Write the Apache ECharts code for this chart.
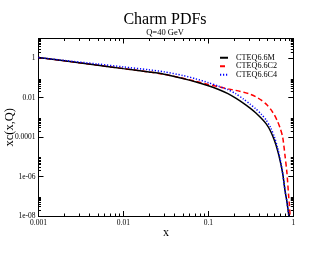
<!DOCTYPE html>
<html><head><meta charset="utf-8">
<script src="https://cdn.jsdelivr.net/npm/echarts@6/dist/echarts.min.js"></script>
<style>html,body{margin:0;padding:0;background:#fff}#c{width:330px;height:255px}</style>
</head><body><div id="c"></div>
<script>
var xs  = [0.001, 0.002, 0.005, 0.01, 0.02, 0.03, 0.05, 0.07, 0.1, 0.13, 0.17, 0.21, 0.26, 0.31, 0.36, 0.42, 0.48, 0.54, 0.6, 0.65, 0.7, 0.75, 0.8, 0.84, 0.88, 0.9, 0.92];
var yM  = [1.085, 0.738, 0.442, 0.297, 0.200, 0.155, 0.094, 0.0646, 0.0405, 0.0269, 0.0160, 0.00955, 0.0052, 0.00297, 0.00172, 8.95e-4, 4.66e-4, 1.99e-4, 6.65e-5, 2.25e-5, 6.3e-6, 1.44e-6, 1.85e-7, 5.5e-8, 1.29e-8, 7.1e-9, 1e-9];
var yC2 = [1.085, 0.738, 0.442, 0.297, 0.200, 0.155, 0.097, 0.0685, 0.0466, 0.0361, 0.0279, 0.0234, 0.019, 0.0150, 0.0112, 0.00747, 0.00469, 0.00262, 0.0013, 6.46e-4, 2.86e-4, 1.0e-4, 1.09e-5, 1.69e-6, 1.16e-7, 3.6e-8, 7.9e-9];
var yC4 = [1.085, 0.774, 0.508, 0.362, 0.259, 0.205, 0.133, 0.0917, 0.0575, 0.0391, 0.0254, 0.0160, 0.0084, 0.00469, 0.00277, 0.00146, 7.26e-4, 3.03e-4, 1.0e-4, 3.12e-5, 7.7e-6, 1.44e-6, 1.85e-7, 5.5e-8, 1.29e-8, 7.1e-9, 1e-9];
var seriesNames = ['CTEQ6.6M', 'CTEQ6.6C2', 'CTEQ6.6C4'];
var xTickValues = [0.001, 0.01, 0.1, 1];
var xTickLabels = ['0.001', '0.01', '0.1', '1'];
var yTickValues = [1e-8, 1e-6, 1e-4, 1e-2, 1];
var yTickLabels = ['1e-08', '1e-06', '0.0001', '0.01', '1'];

var xMinor = [];
[0.001, 0.01, 0.1].forEach(function (d) { for (var m = 2; m <= 9; m++) xMinor.push(+(m * d).toPrecision(3)); });
var yMinor = [];
[1e-8, 1e-6, 1e-4, 1e-2, 1].forEach(function (d) { for (var m = 2; m <= 9; m++) yMinor.push(+(m * d).toPrecision(3)); });

function pairs(ys) { return xs.map(function (x, i) { return [x, ys[i]]; }); }
function lab(vals, labs) {
  return function (v) {
    for (var i = 0; i < vals.length; i++) if (Math.abs(Math.log10(v) - Math.log10(vals[i])) < 1e-6) return labs[i];
    return '';
  };
}
var F = 'Liberation Serif, Times New Roman, serif';
var axisLine = { show: true, lineStyle: { color: '#000', width: 1 } };
function xAx(pos, major, showLab) {
  return {
    type: 'log', logBase: 10, min: 0.001, max: 1, position: pos,
    axisLine: axisLine,
    axisTick: { show: true, inside: true, length: major ? 5 : 2.5, customValues: major ? xTickValues : xMinor, lineStyle: { color: '#000', width: 1 } },
    axisLabel: showLab ? { show: true, customValues: xTickValues, formatter: lab(xTickValues, xTickLabels), fontFamily: F, fontSize: 7.5, color: '#000', margin: 3 } : { show: false },
    splitLine: { show: false }, minorTick: { show: false },
    name: showLab ? 'x' : '', nameLocation: 'middle', nameGap: 11, nameMoveOverlap: false,
    nameTextStyle: { fontFamily: F, fontSize: 12, color: '#000' }
  };
}
function yAx(pos, major, showLab) {
  return {
    type: 'log', logBase: 10, min: 1e-8, max: 10, position: pos,
    axisLine: axisLine,
    axisTick: { show: true, inside: true, length: major ? 5 : 2.5, customValues: major ? yTickValues : yMinor, lineStyle: { color: '#000', width: 1 } },
    axisLabel: showLab ? { show: true, customValues: yTickValues, formatter: lab(yTickValues, yTickLabels), fontFamily: F, fontSize: 7.5, color: '#000', margin: 3 } : { show: false },
    splitLine: { show: false }, minorTick: { show: false },
    name: showLab ? 'xc(x,Q)' : '', nameLocation: 'middle', nameGap: 22, nameMoveOverlap: false,
    nameTextStyle: { fontFamily: F, fontSize: 12.5, color: '#000' }
  };
}
var chart = echarts.init(document.getElementById('c'), null, { renderer: 'canvas' });
chart.setOption({
  animation: false,
  backgroundColor: '#fff',
  title: [
    { text: 'Charm PDFs', left: 'center', top: 7, textStyle: { fontFamily: F, fontSize: 16, fontWeight: 'normal', color: '#000' } },
    { text: 'Q=40 GeV', left: 'center', top: 23.5, textStyle: { fontFamily: F, fontSize: 8.5, fontWeight: 'normal', color: '#000' } }
  ],
  grid: { left: 38.5, right: 36.7, top: 38.5, bottom: 39, containLabel: false, outerBoundsMode: 'none' },
  legend: {
    orient: 'vertical', left: 219, top: 53.5, padding: 0, itemWidth: 8, itemHeight: 6, itemGap: 0,
    itemStyle: { opacity: 0 },
    textStyle: { fontFamily: F, fontSize: 8.2, lineHeight: 8.5, color: '#000', padding: [0, 0, 0, 3] },
    data: seriesNames
  },
  xAxis: [xAx('bottom', true, true), xAx('bottom', false, false), xAx('top', true, false), xAx('top', false, false)],
  yAxis: [yAx('left', true, true), yAx('left', false, false), yAx('right', true, false), yAx('right', false, false)],
  series: [
    { name: seriesNames[0], type: 'line', smooth: 0.25, symbol: 'none', data: pairs(yM), lineStyle: { color: '#000', width: 1.5, type: 'solid' }, itemStyle: { color: '#000' }, z: 3 },
    { name: seriesNames[1], type: 'line', smooth: 0.25, symbol: 'none', data: pairs(yC2), lineStyle: { color: '#ff0000', width: 1.5, type: [5, 3] }, itemStyle: { color: '#ff0000' }, z: 2 },
    { name: seriesNames[2], type: 'line', smooth: 0.25, symbol: 'none', data: pairs(yC4), lineStyle: { color: '#0000ff', width: 1.5, type: [1.2, 1.8] }, itemStyle: { color: '#0000ff' }, z: 4 }
  ]
});
</script></body></html>
